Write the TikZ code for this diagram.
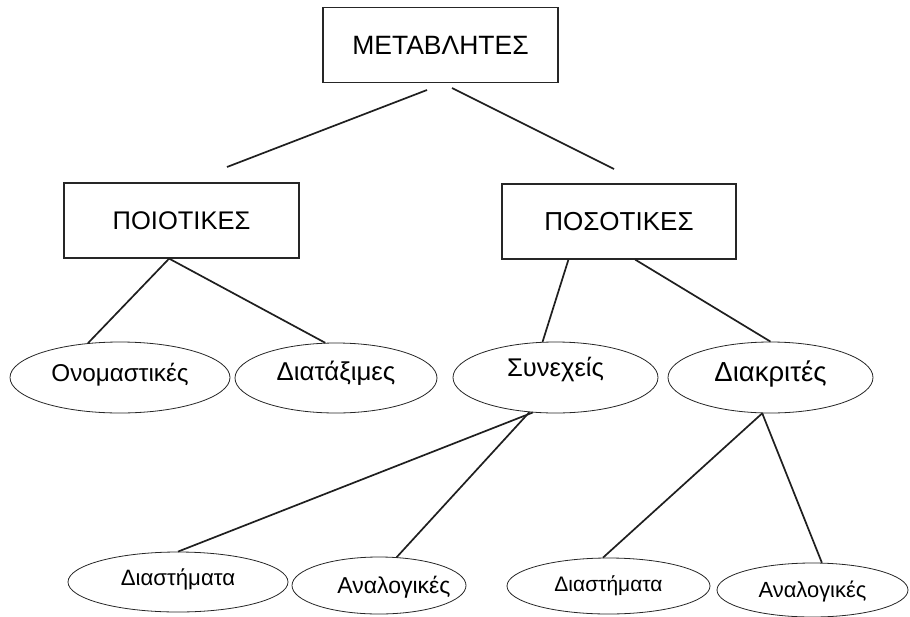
\documentclass[tikz,border=0pt]{standalone}
\usepackage{fontspec}
\setmainfont{Liberation Sans}
\usetikzlibrary{shapes.geometric}
\tikzset{
  box/.style={draw=black!85, line width=1.2pt, inner sep=0pt,
    minimum width=235pt, minimum height=75pt},
  oval/.style={ellipse, draw=black!85, line width=0.8pt, inner sep=0pt,
    text depth=0pt},
  fs/.style={font=\fontsize{#1}{#1}\selectfont},
  link/.style={line width=1.7pt, draw=black!88},
}
\begin{document}
\begin{tikzpicture}[x=1pt, y=-1pt]
  \useasboundingbox (0,0) rectangle (910,616);

  % category boxes
  \node[box, fs=26.5] (top) at (440.5,45) {ΜΕΤΑΒΛΗΤΕΣ};
  \node[box, fs=25.5] (poio) at (181.5,220.5) {ΠΟΙΟΤΙΚΕΣ};
  \node[box, fs=26, minimum width=234pt] (poso) at (619,221.5) {ΠΟΣΟΤΙΚΕΣ};

  % second level ovals
  \node[oval, fs=24.3, minimum width=220pt, minimum height=71pt, text height=8.4pt]
    (ono) at (120,377.5) {Ονομαστικές};
  \node[oval, fs=25.8, minimum width=202pt, minimum height=70pt, text height=4.5pt]
    (diat) at (336,378) {Διατάξιμες};
  \node[oval, fs=25.6, minimum width=205pt, minimum height=71pt, text height=0pt, text depth=2.7pt]
    (syn) at (555.5,377.5) {Συνεχείς};
  \node[oval, fs=27.5, minimum width=205pt, minimum height=71pt, text height=8.7pt]
    (diak) at (770.5,377.5) {Διακριτές};

  % third level ovals
  \node[oval, fs=22.2, minimum width=220pt, minimum height=60pt, text height=7.9pt]
    (dia1) at (178,582) {Διαστήματα};
  \node[oval, fs=23, minimum width=174pt, minimum height=57pt, text height=15.5pt]
    (ana1) at (379,585.5) {\makebox[0pt]{\hspace*{30pt}Αναλογικές}};
  \node[oval, fs=21, minimum width=203pt, minimum height=56pt, text height=11pt]
    (dia2) at (608.5,586) {Διαστήματα};
  \node[oval, fs=21.9, minimum width=191pt, minimum height=54pt, text height=14.7pt]
    (ana2) at (812.5,590) {Αναλογικές};

  % free ends of the top connectors
  \coordinate (topL) at (427,90);
  \coordinate (topR) at (452,88);
  \coordinate (poioT) at (227,167);
  \coordinate (posoT) at (614,169);

  % connectors
  \draw[link] (topL) -- (poioT);
  \draw[link] (topR) -- (posoT);
  \draw[link] (poio.252) -- (ono.133);
  \draw[link] (poio.252) -- (diat.107);
  \draw[link] (poso.217) -- (syn.110);
  \draw[link] (poso.293) -- (diak.north);
  \draw[link] (syn.237) -- (dia1.north);
  \draw[link] (syn.233) -- (ana1.58);
  \draw[link] (diak.257) -- (dia2.101);
  \draw[link] (diak.257) -- (ana2.71);
\end{tikzpicture}
\end{document}
